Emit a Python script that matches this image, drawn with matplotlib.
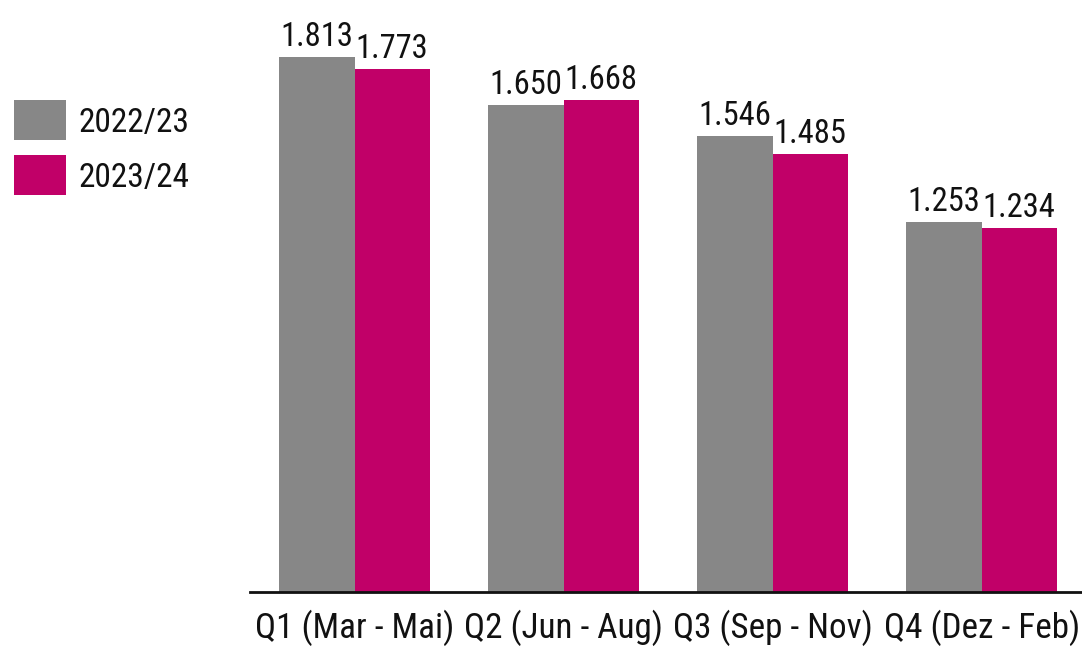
import matplotlib
matplotlib.use("Agg")
import matplotlib.pyplot as plt
from matplotlib import font_manager
from matplotlib.patches import Rectangle
import numpy as np

categories = ["Q1 (Mar - Mai)", "Q2 (Jun - Aug)", "Q3 (Sep - Nov)", "Q4 (Dez - Feb)"]
series_names = ["2022/23", "2023/24"]
values_2022 = [1.813, 1.650, 1.546, 1.253]
values_2023 = [1.773, 1.668, 1.485, 1.234]
colors = ["#878787", "#C10068"]

entries = font_manager.fontManager.ttflist
names = {f.name for f in entries}
stretch = "normal"
fam = "DejaVu Sans"
for cand in ["Liberation Sans Narrow", "Roboto Condensed", "Open Sans Condensed", "Arial Narrow"]:
    if cand in names:
        fam = cand
        break
else:
    if any(f.name == "DejaVu Sans" and str(f.stretch) in ("condensed", "semi-condensed") for f in entries):
        stretch = "condensed"
plt.rcParams["font.family"] = [fam, "DejaVu Sans"]
plt.rcParams["font.stretch"] = stretch

W, H = 1082, 647
fig = plt.figure(figsize=(W / 100, H / 100), dpi=100)
renderer = fig.canvas.get_renderer()


def fit_size(text, target_px, base=26):
    t = fig.text(0, 0, text, fontsize=base)
    w = t.get_window_extent(renderer).width
    t.remove()
    return min(base, base * target_px / w)


tick_fs = fit_size("Q1 (Mar - Mai)", 199)
val_fs = fit_size("1.813", 73, 28)
leg_fs = fit_size("2022/23", 111)

ax = fig.add_axes([250 / W, 1 - 592 / H, (W - 250) / W, 592 / H])

x = np.arange(len(categories))
bw = 0.36
b1 = ax.bar(x - bw / 2, values_2022, bw, color=colors[0], label=series_names[0])
b2 = ax.bar(x + bw / 2, values_2023, bw, color=colors[1], label=series_names[1])

for bars, vals in ((b1, values_2022), (b2, values_2023)):
    for r, v in zip(bars, vals):
        ax.annotate(f"{v:.3f}", (r.get_x() + r.get_width() / 2, v),
                    xytext=(0, 3), textcoords="offset points",
                    ha="center", va="bottom", fontsize=val_fs, color="#111111")

ax.set_xlim(-0.5, 3.48)
ax.set_ylim(0, 2.007)
ax.set_xticks(x)
ax.set_xticklabels(categories, fontsize=tick_fs, color="#111111")
ax.tick_params(axis="x", length=0, pad=13)
ax.set_yticks([])
for s in ["top", "right", "left"]:
    ax.spines[s].set_visible(False)
ax.spines["bottom"].set_linewidth(2)
ax.spines["bottom"].set_color("#111111")

# legend (manual, figure pixel layout)
leg_boxes = [(100, 140), (155, 195)]
for (top, bot), name, col in zip(leg_boxes, series_names, colors):
    fig.patches.append(Rectangle((14 / W, 1 - bot / H), 52 / W, (bot - top) / H,
                                 transform=fig.transFigure, facecolor=col,
                                 edgecolor="none"))
    fig.text(78 / W, 1 - (top + bot) / 2 / H, name, fontsize=leg_fs,
             va="center_baseline", ha="left", color="#111111")

fig.savefig("out.png", dpi=100)
